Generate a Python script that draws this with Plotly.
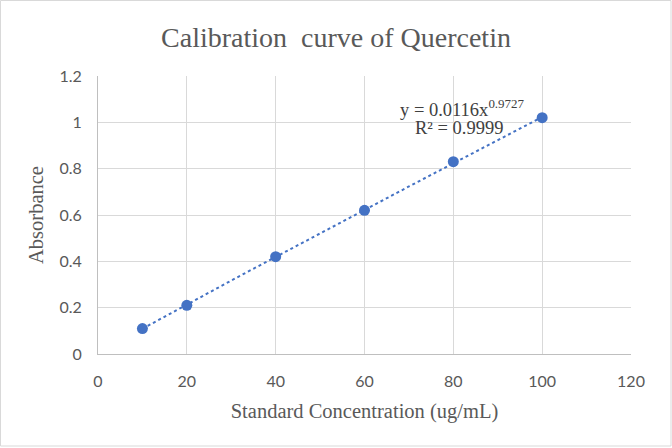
import plotly.graph_objects as go

concentration = [10, 20, 40, 60, 80, 100]
absorbance = [0.11, 0.21, 0.42, 0.62, 0.83, 1.02]
fit_coef = 0.0116
fit_exp = 0.9727
x_ticks = [0, 20, 40, 60, 80, 100, 120]
y_ticks = [0, 0.2, 0.4, 0.6, 0.8, 1, 1.2]
y_tick_labels = ["0", "0.2", "0.4", "0.6", "0.8", "1", "1.2"]

trend_x = [concentration[0] + i * (concentration[-1] - concentration[0]) / 60 for i in range(61)]
trend_y = [fit_coef * x ** fit_exp for x in trend_x]

serif = "Liberation Serif, Times New Roman, serif"
sans = "Lato, Carlito, Calibri, sans-serif"

fig = go.Figure()
fig.add_trace(go.Scatter(x=trend_x, y=trend_y, mode="lines",
                         line=dict(color="#4472C4", width=2, dash="dot"),
                         hoverinfo="skip", showlegend=False))
fig.add_trace(go.Scatter(x=concentration, y=absorbance, mode="markers",
                         marker=dict(color="#4472C4", size=11),
                         showlegend=False))

fig.add_annotation(x=100, y=1.063, xref="x", yref="y", xanchor="right", yanchor="middle",
                   text="y = 0.0116x<sup>0.9727</sup>", showarrow=False, xshift=-16,
                   font=dict(family=serif, size=18.5, color="#404040"))
fig.add_annotation(x=100, y=0.976, xref="x", yref="y", xanchor="right", yanchor="middle",
                   text="R² = 0.9999", showarrow=False, xshift=-37,
                   font=dict(family=serif, size=18.5, color="#404040"))

fig.update_layout(
    width=672, height=448,
    margin=dict(l=98, r=41, t=76, b=94),
    paper_bgcolor="white", plot_bgcolor="white",
    title=dict(text="Calibration&nbsp; curve of Quercetin", x=0.5, xanchor="center",
               y=1 - 37 / 448, yanchor="middle",
               font=dict(family=serif, size=28, color="#595959")),
    xaxis=dict(range=[0, 120], tickvals=x_ticks, showgrid=True, gridcolor="#D9D9D9",
               gridwidth=1, showline=True, linecolor="#BFBFBF", linewidth=1, zeroline=False,
               ticks="", ticklen=0, ticklabelstandoff=13,
               tickfont=dict(family=sans, size=16, color="#595959"),
               title=dict(text="Standard Concentration (ug/mL)", standoff=14,
                          font=dict(family=serif, size=20.5, color="#595959"))),
    yaxis=dict(range=[0, 1.2], tickvals=y_ticks, ticktext=y_tick_labels, showgrid=True,
               gridcolor="#D9D9D9", gridwidth=1, showline=True, linecolor="#BFBFBF",
               linewidth=1, zeroline=False, ticks="", ticklen=0, ticklabelstandoff=12,
               tickfont=dict(family=sans, size=16, color="#595959"),
               title=dict(text="Absorbance", standoff=10,
                          font=dict(family=serif, size=20.5, color="#595959"))),
    shapes=[dict(type="rect", xref="paper", yref="paper", x0=-97.5 / 533, x1=1 + 40 / 533,
                 y0=-92 / 278, y1=1 + 75.5 / 278, line=dict(color="#D9D9D9", width=1),
                 fillcolor="rgba(0,0,0,0)", layer="below")],
)

fig.write_html("out.html", config={"displayModeBar": False},
               post_script="document.body.style.margin='0';")
